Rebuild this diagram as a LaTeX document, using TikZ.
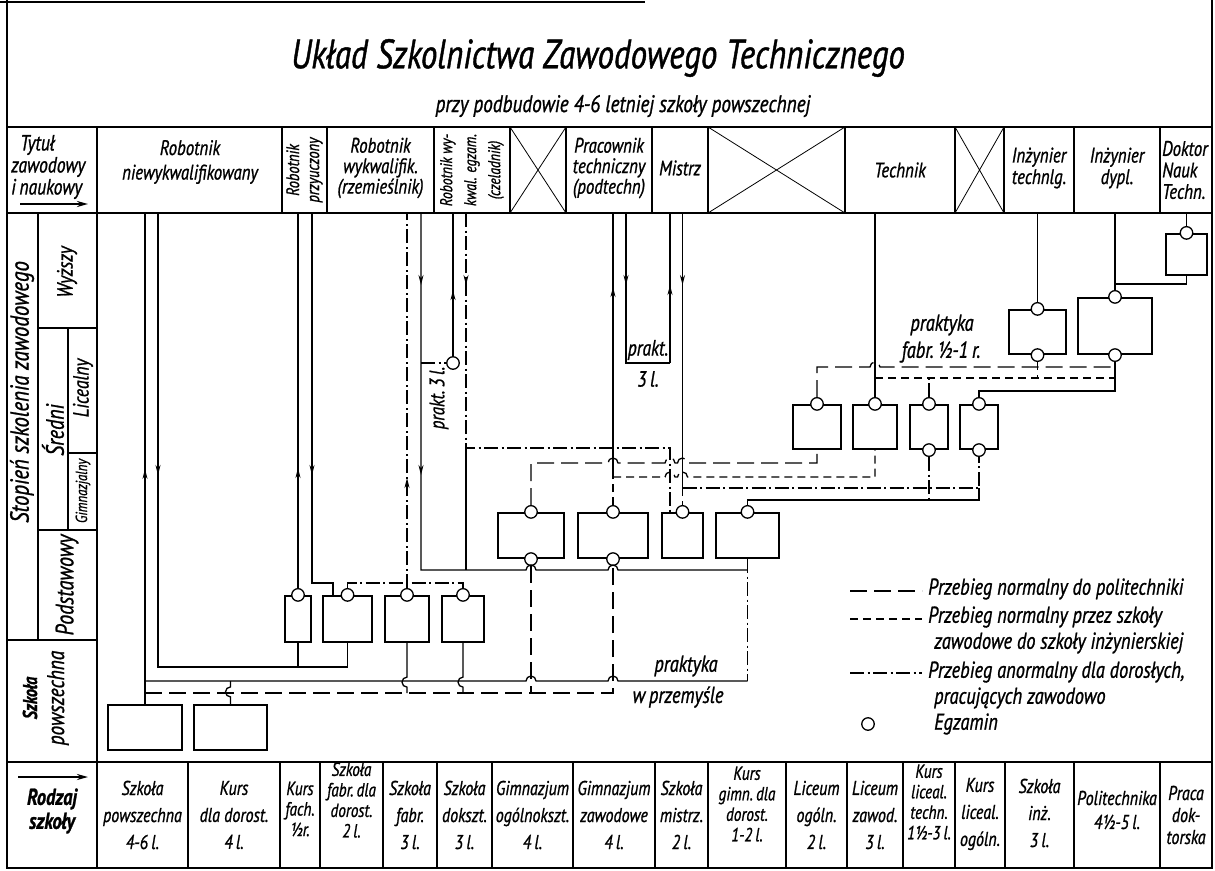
\documentclass[tikz,border=0pt]{standalone}
\usepackage{fontspec}
\setmainfont{PT Sans}[FakeStretch=0.8, FakeBold=1]
\usetikzlibrary{arrows.meta,decorations.markings}

\begin{document}
\begin{tikzpicture}[
  x=1pt, y=-1pt,
  font=\fontsize{21}{21.5}\selectfont\itshape,
  rama/.style={line width=1.8pt},
  siatka/.style={line width=1.2pt},
  krzyz/.style={line width=0.8pt},
  szkola/.style={rectangle, draw, line width=2.2pt, inner sep=0pt},
  egzamin/.style={circle, draw, fill=white, line width=1.3pt, minimum size=12.5pt, inner sep=0pt},
  linia/.style={line width=1.3pt},
  norm/.style={linia, dash pattern=on 17pt off 7pt},
  zaw/.style={linia, dash pattern=on 8pt off 5pt},
  dor/.style={linia, dash pattern=on 14pt off 3.5pt on 2pt off 3.5pt},
  grot/.style={postaction={decorate, solid, decoration={markings, mark=at position #1 with {\arrow{Stealth[length=10pt,width=5pt]}}}}},
  groty/.style 2 args={postaction={decorate, solid, decoration={markings, mark=at position #1 with {\arrow{Stealth[length=10pt,width=5pt]}}, mark=at position #2 with {\arrow{Stealth[length=10pt,width=5pt]}}}}},
  kopf/.style={align=center, inner sep=0pt},
  pion/.style={kopf, rotate=90},
  rodzaj/.style={align=center, inner sep=0pt, font=\fontsize{20}{27}\selectfont\itshape},
  rodzajg/.style={align=center, inner sep=0pt, font=\fontsize{19}{20.5}\selectfont\itshape},
  opis/.style={inner sep=0pt, anchor=west, align=left, font=\fontsize{23}{26}\selectfont\itshape}
]
\useasboundingbox (0,0) rectangle (1215,870);

% rama i siatka
\draw[rama] (0,2) -- (645,2);
\draw[rama] (7,0) -- (7,868) -- (1212,868) -- (1212,0);
\draw[siatka] (7,127) -- (1212,127) (7,213) -- (1212,213) (7,762) -- (1212,762);
\draw[siatka] (97,127) -- (97,868);
\draw[siatka] (282,127) -- (282,213) (327,127) -- (327,213) (434,127) -- (434,213) (510,127) -- (510,213)
  (566,127) -- (566,213) (652,127) -- (652,213) (708,127) -- (708,213) (845,127) -- (845,213)
  (955,127) -- (955,213) (1004,127) -- (1004,213) (1074,127) -- (1074,213) (1160,127) -- (1160,213);
\draw[krzyz] (510,127) -- (566,213) (566,127) -- (510,213) (708,127) -- (845,213) (845,127) -- (708,213)
  (955,127) -- (1004,213) (1004,127) -- (955,213);
\draw[siatka] (188,762) -- (188,868) (280,762) -- (280,868) (320,762) -- (320,868) (383,762) -- (383,868)
  (437,762) -- (437,868) (492,762) -- (492,868) (573,762) -- (573,868) (655,762) -- (655,868)
  (708,762) -- (708,868) (786,762) -- (786,868) (847,762) -- (847,868) (903,762) -- (903,868)
  (955,762) -- (955,868) (1005,762) -- (1005,868) (1074,762) -- (1074,868) (1160,762) -- (1160,868);
\draw[siatka] (38,213) -- (38,640) (38,328) -- (97,328) (68,328) -- (68,530) (68,453) -- (97,453)
  (38,530) -- (97,530) (7,640) -- (97,640);

% tytul
\node[font=\fontsize{41}{44}\selectfont\itshape] (tytul) at (598,58) {Układ Szkolnictwa Zawodowego Technicznego};
\node[font=\fontsize{24}{26}\selectfont\itshape] (podtytul) at (623,106) {przy podbudowie 4-6 letniej szkoły powszechnej};

% tytuly zawodowe
\node[kopf, align=left, anchor=west, font=\fontsize{22}{22}\selectfont\itshape] (tytzaw) at (11,167) {\hspace*{9pt}Tytuł\\zawodowy\\i\,naukowy};
\draw[line width=2.2pt, -{Stealth[length=11pt,width=6pt]}] (20,204) -- (88,204);
\node[kopf] (robn) at (190,162) {Robotnik\\[3pt]niewykwalifikowany};
\node[pion, font=\fontsize{18}{20}\selectfont\itshape] (robp) at (304.5,170) {Robotnik\\przyuczony};
\node[kopf, font=\fontsize{21}{20.5}\selectfont\itshape] (robw) at (380.5,168) {Robotnik\\wykwalifik.\\(rzemieślnik)};
\node[pion, font=\fontsize{17}{24}\selectfont\itshape] (robc) at (472,170) {Robotnik wy-\\kwal. egzam.\\(czeladnik)};
\node[kopf, font=\fontsize{21}{20.5}\selectfont\itshape] (prac) at (609,168) {Pracownik\\techniczny\\(podtechn)};
\node[kopf] (mistrz) at (680,168) {Mistrz};
\node[kopf] (technik) at (900,170) {Technik};
\node[kopf] (inzt) at (1039,168) {Inżynier\\technlg.};
\node[kopf] (inzd) at (1117,168) {Inżynier\\dypl.};
\node[kopf, align=left, anchor=west] (dokt) at (1162,170) {Doktor\\Nauk\\Techn.};

% stopnie
\node[pion, font=\fontsize{26}{28}\selectfont\itshape] (stopien) at (22,392) {Stopień szkolenia zawodowego};
\node[pion, font=\fontsize{22}{24}\selectfont\itshape] (wyzszy) at (67,272) {Wyższy};
\node[pion, font=\fontsize{25}{26}\selectfont\itshape] (sredni) at (53,430) {Średni};
\node[pion, font=\fontsize{22}{24}\selectfont\itshape] (licealny) at (83,388) {Licealny};
\node[pion, font=\fontsize{16}{20}\selectfont\itshape] (gimnaz) at (83,491) {Gimnazjalny};
\node[pion, font=\fontsize{25}{26}\selectfont\itshape] (podst) at (67,585) {Podstawowy};
\node[pion, font=\fontsize{20}{22}\selectfont\bfseries\itshape] (szkpow) at (30,698) {Szkoła};
\node[pion, font=\fontsize{24}{26}\selectfont\itshape] (powsz) at (58,698) {powszechna};

% rodzaje szkol
\draw[line width=2.2pt, -{Stealth[length=11pt,width=6pt]}] (18,777) -- (88,777);
\node[kopf, font=\fontsize{23}{24}\selectfont\bfseries\itshape] (rodz) at (52,811) {Rodzaj\\szkoły};
\node[rodzaj] (s1) at (142.5,815) {Szkoła\\powszechna\\4-6\,l.};
\node[rodzaj] (s2) at (234,815) {Kurs\\dla dorost.\\4\,l.};
\node[rodzajg] (s3) at (300,809) {Kurs\\fach.\\½r.};
\node[rodzajg] (s4) at (351.5,800) {Szkoła\\fabr.\,dla\\dorost.\\2\,l.};
\node[rodzaj] (s5) at (410,815) {Szkoła\\fabr.\\3\,l.};
\node[rodzaj] (s6) at (464.5,815) {Szkoła\\dokszt.\\3\,l.};
\node[rodzaj] (s7) at (532.5,815) {Gimnazjum\\ogólnokszt.\\4\,l.};
\node[rodzaj] (s8) at (614,815) {Gimnazjum\\zawodowe\\4\,l.};
\node[rodzaj] (s9) at (681.5,815) {Szkoła\\mistrz.\\2\,l.};
\node[rodzajg] (s10) at (747,804) {Kurs\\gimn.\,dla\\dorost.\\1-2\,l.};
\node[rodzaj] (s11) at (816.5,815) {Liceum\\ogóln.\\2\,l.};
\node[rodzaj] (s12) at (875,815) {Liceum\\zawod.\\3\,l.};
\node[rodzajg] (s13) at (929,802) {Kurs\\liceal.\\techn.\\1½-3\,l.};
\node[rodzaj] (s14) at (980,814) {Kurs\\liceal.\\ogóln.};
\node[rodzaj] (s15) at (1039.5,813) {Szkoła\\inż.\\3\,l.};
\node[rodzaj, font=\fontsize{20}{24}\selectfont\itshape] (s16) at (1117,810) {Politechnika\\4½-5\,l.};
\node[rodzaj, font=\fontsize{20}{22}\selectfont\itshape] (s17) at (1186,815) {Praca\\dok-\\torska};

% punkty przylaczenia
\coordinate (h145) at (145,213);
\coordinate (h158) at (158,213);
\coordinate (h298) at (298,213);
\coordinate (h312) at (312,213);
\coordinate (h407) at (407,213);
\coordinate (h421) at (421,213);
\coordinate (h453) at (453,213);
\coordinate (h466) at (466,213);
\coordinate (h613) at (613,213);
\coordinate (h626) at (626,213);
\coordinate (h670) at (670,213);
\coordinate (h683) at (682.5,213);
\coordinate (h875) at (875,213);
\coordinate (h1037) at (1037.5,213);
\coordinate (h1115) at (1115,213);
\coordinate (h1186) at (1186.5,213);
\coordinate (k284) at (0,284);
\coordinate (k363) at (0,363);
\coordinate (k367) at (0,367);
\coordinate (k378) at (0,378);
\coordinate (k391) at (0,391);
\coordinate (k448) at (0,448);
\coordinate (k463) at (0,463);
\coordinate (k477) at (0,477);
\coordinate (k488) at (0,488);
\coordinate (k500) at (0,500);
\coordinate (k570) at (0,570);
\coordinate (k583) at (0,583);
\coordinate (k667) at (0,667);
\coordinate (k681) at (0,681);
\coordinate (k693) at (0,693);

% szkoly
\node[szkola, minimum width=74pt, minimum height=45pt] (b1) at (145,727.5) {};
\node[szkola, minimum width=73pt, minimum height=45pt] (b2) at (230.5,727.5) {};
\node[szkola, minimum width=26pt, minimum height=46pt] (p1) at (298,619) {};
\node[szkola, minimum width=49pt, minimum height=46pt] (p2) at (347.5,619) {};
\node[szkola, minimum width=44pt, minimum height=46pt] (p3) at (407,619) {};
\node[szkola, minimum width=42pt, minimum height=46pt] (p4) at (463,619) {};
\node[szkola, minimum width=66pt, minimum height=45pt] (g1) at (531,535.5) {};
\node[szkola, minimum width=70pt, minimum height=45pt] (g2) at (613,535.5) {};
\node[szkola, minimum width=41pt, minimum height=45pt] (g3) at (682.5,535.5) {};
\node[szkola, minimum width=63pt, minimum height=45pt] (g4) at (747.5,535.5) {};
\node[szkola, minimum width=48pt, minimum height=44pt] (l1) at (817,427) {};
\node[szkola, minimum width=44pt, minimum height=44pt] (l2) at (875,427) {};
\node[szkola, minimum width=38pt, minimum height=44pt] (l3) at (929,427) {};
\node[szkola, minimum width=38pt, minimum height=44pt] (l4) at (979,427) {};
\node[szkola, minimum width=57pt, minimum height=44pt] (w1) at (1037.5,332) {};
\node[szkola, minimum width=74pt, minimum height=56pt] (w2) at (1115,326) {};
\node[szkola, minimum width=41pt, minimum height=41pt] (w3) at (1186.5,254.5) {};

% egzaminy
\node[egzamin] (p1t) at (p1.north) {};
\node[egzamin] (p2t) at (p2.north) {};
\node[egzamin] (p3t) at (p3.north) {};
\node[egzamin] (p4t) at (p4.north) {};
\node[egzamin] (g1t) at (g1.north) {};
\node[egzamin] (g1b) at (g1.south) {};
\node[egzamin] (g2t) at (g2.north) {};
\node[egzamin] (g2b) at (g2.south) {};
\node[egzamin] (g3t) at (g3.north) {};
\node[egzamin] (g4t) at (g4.north) {};
\node[egzamin] (l1t) at (l1.north) {};
\node[egzamin] (l2t) at (l2.north) {};
\node[egzamin] (l3t) at (l3.north) {};
\node[egzamin] (l3b) at (l3.south) {};
\node[egzamin] (l4t) at (l4.north) {};
\node[egzamin] (l4b) at (l4.south) {};
\node[egzamin] (w1t) at (w1.north) {};
\node[egzamin] (w1b) at (w1.south) {};
\node[egzamin] (w2t) at (w2.north) {};
\node[egzamin] (w2b) at (w2.south) {};
\node[egzamin] (w3t) at (w3.north) {};
\node[egzamin] (e453) at (453,363) {};
\coordinate (p2w) at ([xshift=-14.5pt]p2.north);
\coordinate (g3w) at ([xshift=-12.5pt]g3.north);

% robotnik niewykwalifikowany i przyuczony
\draw[linia, grot=235pt] (b1.north) -- (h145);
\draw[linia, grot=262pt] (h158) -- (h158 |- k667) -| (p2.south);
\draw[linia] (p1.south) -- (p1.south |- k667);
\draw[linia, grot=120pt] (p1t) -- (h298);
\draw[linia, grot=262pt] (h312) |- (p2w |- k583) -- (p2w);
% robotnik wykwalifikowany i czeladnik
\draw[dor, grot=110pt] (p3t) -- (h407);
\draw[dor] (p2t) |- (p4t |- k583) -- (p4t);
\draw[linia, groty={72pt}{262pt}] (h421) -- (h421 |- k570) -- (526,570) arc[start angle=180, end angle=360, radius=5]
  -- (608,570) arc[start angle=180, end angle=360, radius=5] -- (g4.south |- k570);
\draw[dor] (h421 |- e453) -- (e453);
\draw[linia, grot=66pt] (e453) -- (h453);
\draw[dor, grot=72pt] (h466) |- (g3w |- k448) -- (g3w);
\draw[linia] (h466 |- k448) -- (h466 |- k570);
% pracownik techniczny i mistrz
\draw[zaw] (g2t) -- (g2t |- k477);
\draw[linia, grot=190pt] (g2t |- k477) -- (h613);
\draw[linia, grot=72pt] (h626) |- (h670 |- k363);
\draw[linia, grot=78pt] (h670 |- k363) -- (h670);
\draw[linia, grot=72pt] (h683) -- (h683 |- k488);
\draw[zaw] (h683 |- k488) -- (g3t);
\draw[dor] (h683 |- k488) -| (l4b);
\draw[linia] (g4t) |- (l4b |- k500) -- (l4b |- k488);
\draw[dor] (l3b) -- (l3b |- k500);
% do liceow
\draw[norm] (g1t) -- (g1t |- k463) -- (608,463) arc[start angle=180, end angle=360, radius=5]
  -- (665,463) arc[start angle=180, end angle=360, radius=5] -- (677.5,463) arc[start angle=180, end angle=360, radius=5]
  -- (l1.south |- k463) -- (l1.south);
\draw[zaw] (g2t |- k477) -- (665,477) arc[start angle=180, end angle=360, radius=5]
  -- (677.5,477) arc[start angle=180, end angle=360, radius=5] -- (l2.south |- k477) -- (l2.south);
% do szkol wyzszych
\draw[norm] (l1t) -- (l1t |- k367) -- (870,367) arc[start angle=180, end angle=360, radius=5] -- (w2b |- k367) -- (w2b);
\draw[linia] (h875) -- (l2t);
\draw[zaw] (h875 |- k378) -| (w2b);
\draw[zaw] (w1b) -- (w1b |- k378);
\draw[dor] (l3t) -- (l3t |- k378);
\draw[linia] (l4t) |- (w2b |- k391) -- (w2b);
\draw[linia] (w1t) -- (h1037);
\draw[linia] (w2t) -- (h1115);
\draw[linia] (w3t) -- (h1186);
\draw[linia] (w3.south) |- (h1115 |- k284);
% szkola powszechna i praktyka w przemysle
\draw[linia] (h145 |- k681) -- (526,681) arc[start angle=180, end angle=360, radius=5]
  -- (608,681) arc[start angle=180, end angle=360, radius=5] -- (g4.south |- k681);
\draw[dor] (g4.south) -- (g4.south |- k681);
\draw[norm] (h145 |- k693) -- (g2b |- k693) -- (g2b);
\draw[norm] (g1b) -- (g1b |- k693);
\draw[linia] (b2.north) -- ++(0,-7) arc[start angle=90, end angle=270, radius=5] -- (b2.north |- k681);
\draw[linia] (p3.south) -- ++(0,34) arc[start angle=270, end angle=90, radius=5] -- (p3.south |- k693);
\draw[linia] (p4.south) -- ++(0,34) arc[start angle=270, end angle=90, radius=5] -- (p4.south |- k693);

% opisy
\node[pion, font=\fontsize{21}{22}\selectfont\itshape] (prakt1) at (439,398) {prakt.\,3\,l.};
\node[kopf, font=\fontsize{22}{22}\selectfont\itshape] (prakt2) at (648,350) {prakt.};
\node[kopf, font=\fontsize{22}{22}\selectfont\itshape] (prakt3) at (648,379) {3\,l.};
\node[kopf, font=\fontsize{23}{23}\selectfont\itshape] (praktf1) at (942,325) {praktyka};
\node[kopf, font=\fontsize{23}{23}\selectfont\itshape] (praktf2) at (941,352) {fabr.\,½-1\,r.};
\node[kopf, font=\fontsize{23}{23}\selectfont\itshape] (praktw1) at (686,666) {praktyka};
\node[kopf, font=\fontsize{23}{23}\selectfont\itshape] (praktw2) at (678,697) {w\,przemyśle};

% legenda
\draw[norm] (850,591) -- (922,591);
\draw[zaw] (850,619) -- (922,619);
\draw[dor] (850,673) -- (922,673);
\node[egzamin] (legeg) at (868,724) {};
\node[opis] (leg1) at (928,589) {Przebieg normalny do politechniki};
\node[opis] (leg2) at (928,630) {Przebieg normalny przez szkoły\\\hspace*{6pt}zawodowe do szkoły inżynierskiej};
\node[opis] (leg3) at (928,685) {Przebieg anormalny dla dorosłych,\\\hspace*{6pt}pracujących zawodowo};
\node[opis] (leg4) at (928,724) {\hspace*{6pt}Egzamin};
\end{tikzpicture}
\end{document}
